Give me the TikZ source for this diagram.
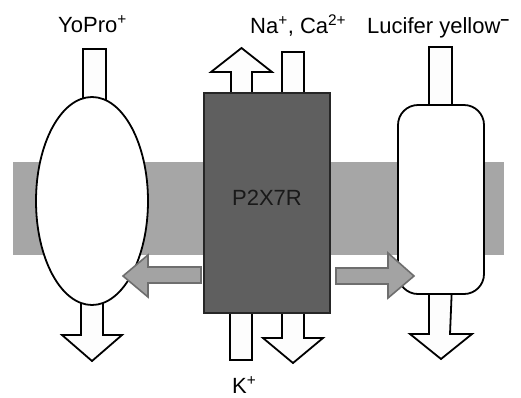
\documentclass[tikz,border=0pt]{standalone}
\usepackage{fontspec}
\setmainfont{Liberation Sans}
\usetikzlibrary{shapes.geometric,positioning}
\definecolor{membrane}{RGB}{166,166,166}
\definecolor{chandark}{RGB}{95,95,95}
\definecolor{fluxgray}{RGB}{163,163,163}
\definecolor{fluxedge}{RGB}{110,110,110}
\definecolor{offwhite}{RGB}{253,253,253}

\begin{document}
\begin{tikzpicture}[
    x=1pt, y=-1pt,
    font=\fontsize{22}{26}\selectfont,
    tube/.style={draw, line width=1.8pt, fill=offwhite, line join=miter},
    pore/.style={draw, line width=1.8pt, fill=white, inner sep=0pt},
    grayarr/.style={draw=fluxedge, line width=1.6pt, fill=fluxgray, line join=miter},
    lbl/.style={anchor=base west, inner sep=0pt},
  ]
  \useasboundingbox (0,0) rectangle (521,397);
  \fill[membrane] (13,162) rectangle (504,255);

  % white flux tubes, drawn under the transporters
  \draw[tube] (83,49) rectangle (106,115);
  \draw[tube] (81,290) -- (81,335) -- (62,335) -- (92,361) -- (122,335) -- (103,335) -- (103,290) -- cycle;
  \draw[tube] (231,100) -- (231,72) -- (211,72) -- (241.5,48) -- (272,72) -- (252,72) -- (252,100) -- cycle;
  \draw[tube] (282,52) rectangle (304,100);
  \draw[tube] (230,305) rectangle (252,360);
  \draw[tube] (282,305) -- (282,338) -- (263,338) -- (293,363) -- (323,338) -- (304,338) -- (304,305) -- cycle;
  \draw[tube] (429,47) rectangle (452,115);
  \draw[tube] (429,285) -- (429,334) -- (410,334) -- (441,359) -- (472,334) -- (450,334) -- (452,285) -- cycle;

  % transporters
  \node[pore, ellipse, minimum width=112pt, minimum height=208pt] (yopro) at (92,201) {};
  \node[pore, rectangle, rounded corners=20pt, minimum width=86pt, minimum height=189pt] (lucifer) at (441,199.5) {};
  \node[draw=black!85, line width=1.4pt, fill=chandark, minimum width=126pt, minimum height=220pt, inner sep=0pt] (p2x7r) at (267,203) {};
  \node[text=black!90, inner sep=0pt] (p2x7rtxt) at ([yshift=5.5pt]p2x7r.center) {P2X7R};

  % gray arrows
  \draw[grayarr] (201,267) -- (148,267) -- (148,255) -- (123,276) -- (148,297) -- (148,283) -- (201,283) -- cycle;
  \draw[grayarr] (336,268) -- (388,268) -- (388,253) -- (414,276) -- (388,298) -- (388,284) -- (336,284) -- cycle;

  \node[lbl] (yoprotxt) at (58,32) {YoPro\textsuperscript{+}};
  \node[lbl] (cationtxt) at (250,33) {Na\textsuperscript{+}, Ca\textsuperscript{2+}};
  \node[lbl] (lucifertxt) at (367,33) {Lucifer yellow\textsuperscript{\textbf{−}}};
  \node[lbl] (ktxt) at (232,393) {K\textsuperscript{+}};
\end{tikzpicture}
\end{document}
